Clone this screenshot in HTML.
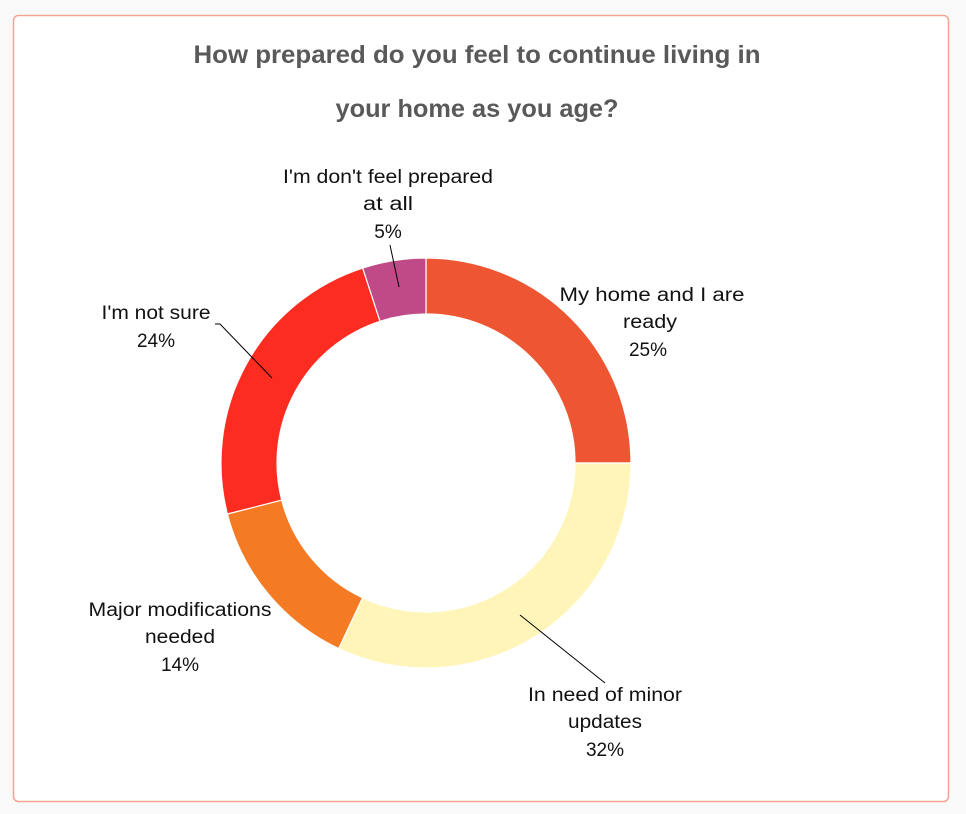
<!DOCTYPE html>
<html><head><meta charset="utf-8"><style>
html,body{margin:0;padding:0;background:#faf9f9;}
svg{display:block;}
text{font-family:"Liberation Sans",sans-serif;}
</style></head><body>
<svg width="966" height="814" viewBox="0 0 966 814">
<rect x="13.5" y="15.5" width="935" height="786" rx="5" fill="#fff" stroke="#f2a493" stroke-width="1.5"/>
<g font-weight="bold" fill="#595959" font-size="25" text-anchor="middle">
<text x="477" y="63" textLength="567" lengthAdjust="spacingAndGlyphs">How prepared do you feel to continue living in</text>
<text x="477" y="117" textLength="283" lengthAdjust="spacingAndGlyphs">your home as you age?</text>
</g>
<g stroke="#fff" stroke-width="1.2">
<path d="M426,258 A205,205 0 0 1 631,463 L575,463 A149,149 0 0 0 426,314 Z" fill="#ee5633"/>
<path d="M631,463 A205,205 0 0 1 338.7,648.5 L362.6,597.8 A149,149 0 0 0 575,463 Z" fill="#fff5b9"/>
<path d="M338.7,648.5 A205,205 0 0 1 227.4,514 L281.7,500.1 A149,149 0 0 0 362.6,597.8 Z" fill="#f47b24"/>
<path d="M227.4,514 A205,205 0 0 1 362.7,268 L380,321.3 A149,149 0 0 0 281.7,500.1 Z" fill="#fc2d20"/>
<path d="M362.7,268 A205,205 0 0 1 426,258 L426,314 A149,149 0 0 0 380,321.3 Z" fill="#c04a87"/>
</g>
<g stroke="#000" stroke-width="1" fill="none">
<polyline points="390,245 399,287"/>
<polyline points="215,324 220,324 272,378"/>
<polyline points="520,615 605,683"/>
</g>
<g font-size="19" fill="#111" text-anchor="middle">
<text x="388" y="183" textLength="210" lengthAdjust="spacingAndGlyphs">I'm don't feel prepared</text>
<text x="388" y="210" textLength="50" lengthAdjust="spacingAndGlyphs">at all</text>
<text x="388" y="238">5%</text>
<text x="652" y="301" textLength="185" lengthAdjust="spacingAndGlyphs">My home and I are</text>
<text x="650" y="328" textLength="54" lengthAdjust="spacingAndGlyphs">ready</text>
<text x="648" y="356">25%</text>
<text x="156" y="319" textLength="109" lengthAdjust="spacingAndGlyphs">I'm not sure</text>
<text x="156" y="347">24%</text>
<text x="180" y="616" textLength="183" lengthAdjust="spacingAndGlyphs">Major modifications</text>
<text x="180" y="643" textLength="70" lengthAdjust="spacingAndGlyphs">needed</text>
<text x="180" y="671">14%</text>
<text x="605" y="701" textLength="154" lengthAdjust="spacingAndGlyphs">In need of minor</text>
<text x="605" y="728" textLength="74" lengthAdjust="spacingAndGlyphs">updates</text>
<text x="605" y="756">32%</text>
</g>
</svg>
</body></html>
